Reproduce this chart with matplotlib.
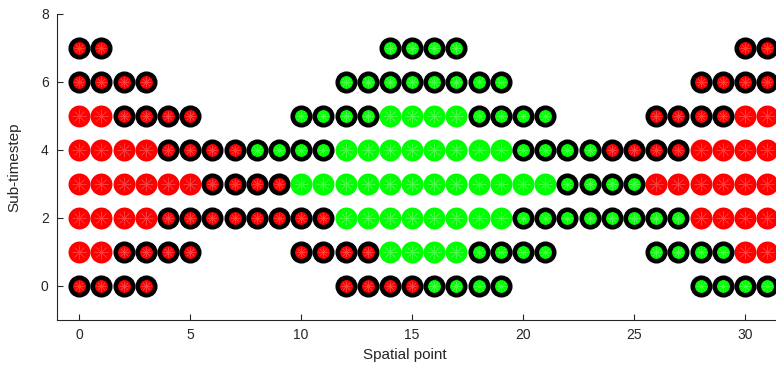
import matplotlib
matplotlib.use("Agg")
import matplotlib.pyplot as plt
import numpy as np

plt.rcParams["font.family"] = ["Liberation Sans", "DejaVu Sans"]

# one string per sub-timestep, one character per spatial point 0..31
# R/G = plain red/green, r/g = red/green with black ring, . = nothing
rows = [
    "rrrr........rrrrgggg........gggg",  # 0
    "RRrrrr....rrrrGGGGgggg....ggggRR",  # 1
    "RRRRrrrrrrrrGGGGGGGGggggggggRRRR",  # 2
    "RRRRRRrrrrGGGGGGGGGGGGggggRRRRRR",  # 3
    "RRRRrrrrggggGGGGGGGGggggrrrrRRRR",  # 4
    "RRrrrr....ggggGGGGgggg....rrrrRR",  # 5
    "rrrr........gggggggg........rrrr",  # 6
    "rr............gggg............rr",  # 7
]
x_ticks = [0, 5, 10, 15, 20, 25, 30]
y_ticks = [0, 2, 4, 6, 8]

fill = {"r": "#ff0000", "g": "#00ff00"}
star = {"r": "#ff3a3a", "g": "#45ff45"}

fig = plt.figure(figsize=(7.76, 3.75), dpi=100)
ax = fig.add_axes([0.0735, 0.1467, 0.9265, 0.816])

for y, row in enumerate(rows):
    for code in "RrGg":
        xs = np.array([i for i, c in enumerate(row) if c == code])
        if len(xs) == 0:
            continue
        ys = np.full(len(xs), y)
        col = fill[code.lower()]
        if code.isupper():
            ax.plot(xs, ys, "o", ms=15.8, mfc=col, mec="none", zorder=2)
        else:
            ax.plot(xs, ys, "o", ms=12.6, mfc=col, mec="black", mew=3.3, zorder=2)
        # faint asterisk drawn on top of each dot
        ax.plot(xs, ys, marker=(8, 2, 0), ls="none", ms=10 if code.isupper() else 7,
                mec=star[code.lower()], mew=0.4, zorder=3)

ax.set_xlim(-1, 31.4)
ax.set_ylim(-1, 8)
ax.set_xticks(x_ticks)
ax.set_yticks(y_ticks)
ax.spines["top"].set_visible(False)
ax.spines["right"].set_visible(False)
for s in ("left", "bottom"):
    ax.spines[s].set_color("#262626")
    ax.spines[s].set_linewidth(0.8)
ax.tick_params(direction="in", length=4.5, width=0.8, colors="#262626", labelsize=10, pad=6)
ax.set_xlabel("Spatial point", fontsize=11, color="#262626")
ax.set_ylabel("Sub-timestep", fontsize=11, color="#262626")
ax.xaxis.set_label_coords(0.484, -0.09)
ax.yaxis.set_label_coords(-0.05, 0.5)

fig.savefig("out.png", dpi=100)
